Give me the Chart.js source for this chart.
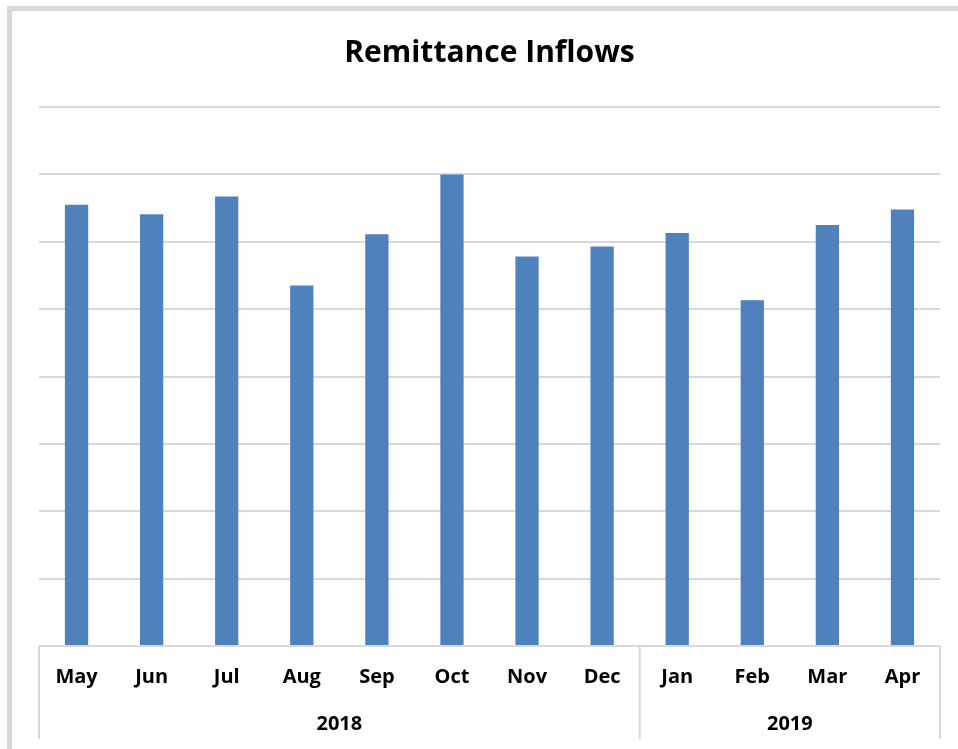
<!DOCTYPE html>
<html>
<head>
<meta charset="utf-8">
<script src="https://cdn.jsdelivr.net/npm/chart.js@4.4.0/dist/chart.umd.min.js"></script>
<style>
  html, body { margin: 0; padding: 0; background: #fff; }
  #wrap { position: relative; width: 958px; height: 749px; }
  #frame {
    position: absolute; left: 7px; top: 6px; right: 0; bottom: 0;
    border-left: 5px solid #d9d9d9; border-top: 5px solid #d9d9d9;
    pointer-events: none;
  }
  canvas { position: absolute; left: 0; top: 0; }
</style>
</head>
<body>
<div id="wrap">
  <canvas id="chartRemesas" width="958" height="749"></canvas>
  <div id="frame"></div>
</div>
<script>
// Datos (escala sin etiquetas, 1 unidad = 1 línea de rejilla)
var meses = ['May', 'Jun', 'Jul', 'Aug', 'Sep', 'Oct', 'Nov', 'Dec', 'Jan', 'Feb', 'Mar', 'Apr'];
var remesas = [6.55, 6.41, 6.67, 5.35, 6.11, 7.00, 5.78, 5.93, 6.13, 5.13, 6.25, 6.48];
var anios = ['2018', '2019'];
var mesesPorAnio = [8, 4];

var gris = '#d9d9d9';
var fuente = "'Open Sans', 'Liberation Sans', sans-serif";

// Plugin para dibujar la segunda fila de etiquetas (años) con separadores
var pluginAnios = {
    id: 'anios',
    afterDraw: function (chart) {
        var ctx = chart.ctx;
        var x = chart.scales.x;
        var area = chart.chartArea;
        var mitad = (x.getPixelForValue(1) - x.getPixelForValue(0)) / 2;
        var inicio = 0;
        ctx.save();
        ctx.strokeStyle = gris;
        ctx.lineWidth = 2;
        ctx.fillStyle = '#000';
        ctx.font = 'bold 20px ' + fuente;
        ctx.textAlign = 'center';
        ctx.textBaseline = 'middle';
        var bordes = [x.getPixelForValue(0) - mitad];
        for (var i = 0; i < anios.length; i++) {
            var fin = inicio + mesesPorAnio[i] - 1;
            var izq = x.getPixelForValue(inicio) - mitad;
            var der = x.getPixelForValue(fin) + mitad;
            bordes.push(der);
            ctx.fillText(anios[i], (izq + der) / 2, area.bottom + 78);
            inicio = fin + 1;
        }
        bordes.forEach(function (bx) {
            ctx.beginPath();
            ctx.moveTo(bx, area.bottom);
            ctx.lineTo(bx, area.bottom + 93);
            ctx.stroke();
        });
        ctx.restore();
    }
};

var ctxRemesas = document.getElementById('chartRemesas').getContext('2d');
var chartRemesas = new Chart(ctxRemesas, {
    type: 'bar',
    data: {
        labels: meses,
        datasets: [{
            label: 'Remittance Inflows',
            data: remesas,
            backgroundColor: '#4f81bd',
            borderWidth: 0,
            barPercentage: 0.31,
            categoryPercentage: 1
        }]
    },
    options: {
        responsive: false,
        animation: false,
        layout: { padding: { left: 39, right: 18, top: 0, bottom: 0 } },
        plugins: {
            legend: { display: false },
            tooltip: { enabled: false },
            title: {
                display: true,
                text: 'Remittance Inflows',
                color: '#000',
                font: { family: fuente, size: 30, weight: 'bold' },
                padding: { top: 35, bottom: 36 }
            }
        },
        scales: {
            y: {
                min: 0,
                max: 8,
                ticks: { display: false, stepSize: 1 },
                grid: { color: gris, lineWidth: 2, drawTicks: false },
                border: { display: false },
                afterFit: function (scale) { scale.width = 0; }
            },
            x: {
                grid: { display: false, drawTicks: false },
                border: { display: false },
                ticks: {
                    color: '#000',
                    padding: 19,
                    font: { family: fuente, size: 20, weight: 'bold' }
                },
                afterFit: function (scale) { scale.height = 103; }
            }
        }
    },
    plugins: [pluginAnios]
});
</script>
</body>
</html>
